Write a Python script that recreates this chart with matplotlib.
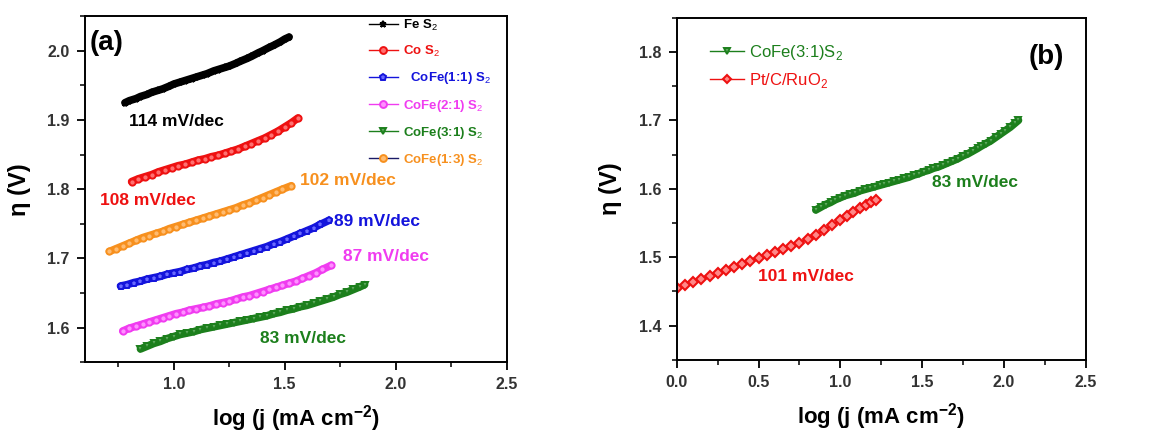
#!/usr/bin/env python3
import matplotlib
matplotlib.use('Agg')
import matplotlib.pyplot as plt
from matplotlib.ticker import MultipleLocator

plt.rcParams['font.family'] = ['Liberation Sans', 'DejaVu Sans']
plt.rcParams['mathtext.fontset'] = 'custom'
plt.rcParams['mathtext.rm'] = 'Liberation Sans'
plt.rcParams['mathtext.bf'] = 'Liberation Sans:bold'

# Tafel data, log(j) vs potential
fes2_x = [0.78, 0.80, 0.83, 0.85, 0.88, 0.90, 0.93, 0.95, 0.98, 1.00, 1.03, 1.05, 1.08, 1.10, 1.13, 1.15,
          1.18, 1.20, 1.23, 1.25, 1.28, 1.30, 1.33, 1.35, 1.38, 1.40, 1.43, 1.45, 1.48, 1.50, 1.52]
fes2_y = [1.925, 1.928, 1.931, 1.934, 1.937, 1.940, 1.943, 1.945, 1.949, 1.952, 1.955, 1.957, 1.960, 1.962,
          1.965, 1.967, 1.971, 1.973, 1.976, 1.978, 1.982, 1.985, 1.989, 1.992, 1.997, 2.000, 2.005, 2.008,
          2.013, 2.017, 2.020]

cos2_x = [0.81, 0.84, 0.87, 0.90, 0.93, 0.96, 0.99, 1.02, 1.05, 1.08, 1.11, 1.14, 1.17, 1.20, 1.23, 1.26,
          1.29, 1.32, 1.35, 1.38, 1.41, 1.44, 1.47, 1.50, 1.53, 1.56]
cos2_y = [1.811, 1.815, 1.818, 1.821, 1.825, 1.828, 1.831, 1.834, 1.836, 1.839, 1.842, 1.844, 1.847, 1.849,
          1.852, 1.855, 1.858, 1.862, 1.866, 1.870, 1.874, 1.879, 1.884, 1.890, 1.896, 1.903]

cofe13_x = [0.71, 0.74, 0.77, 0.80, 0.83, 0.86, 0.89, 0.92, 0.95, 0.98, 1.01, 1.04, 1.07, 1.10, 1.13, 1.16,
            1.19, 1.22, 1.25, 1.28, 1.31, 1.34, 1.37, 1.40, 1.43, 1.46, 1.49, 1.53]
cofe13_y = [1.710, 1.714, 1.718, 1.722, 1.726, 1.730, 1.733, 1.736, 1.739, 1.743, 1.746, 1.749, 1.752, 1.755,
            1.758, 1.761, 1.764, 1.767, 1.770, 1.773, 1.777, 1.780, 1.784, 1.788, 1.792, 1.796, 1.800, 1.805]

cofe11_x = [0.76, 0.79, 0.82, 0.85, 0.88, 0.91, 0.94, 0.97, 1.00, 1.03, 1.06, 1.09, 1.12, 1.15, 1.18, 1.21,
            1.24, 1.27, 1.30, 1.33, 1.36, 1.39, 1.42, 1.45, 1.48, 1.51, 1.54, 1.57, 1.60, 1.63, 1.66, 1.70]
cofe11_y = [1.660, 1.662, 1.665, 1.667, 1.670, 1.672, 1.674, 1.677, 1.679, 1.681, 1.684, 1.686, 1.689, 1.691,
            1.694, 1.696, 1.699, 1.702, 1.705, 1.708, 1.711, 1.714, 1.717, 1.721, 1.724, 1.728, 1.732, 1.736,
            1.740, 1.744, 1.749, 1.755]

cofe21_x = [0.77, 0.80, 0.83, 0.86, 0.89, 0.92, 0.95, 0.98, 1.01, 1.04, 1.07, 1.10, 1.13, 1.16, 1.19, 1.22,
            1.25, 1.28, 1.31, 1.34, 1.37, 1.40, 1.43, 1.46, 1.49, 1.52, 1.55, 1.58, 1.61, 1.64, 1.67, 1.71]
cofe21_y = [1.595, 1.599, 1.602, 1.605, 1.608, 1.611, 1.614, 1.617, 1.620, 1.622, 1.625, 1.627, 1.629, 1.631,
            1.634, 1.636, 1.638, 1.641, 1.644, 1.646, 1.649, 1.652, 1.655, 1.658, 1.661, 1.664, 1.667, 1.671,
            1.675, 1.679, 1.684, 1.690]

cofe31_x = [0.85, 0.88, 0.91, 0.94, 0.97, 1.00, 1.03, 1.06, 1.09, 1.12, 1.15, 1.18, 1.21, 1.24, 1.27, 1.30,
            1.33, 1.36, 1.39, 1.42, 1.45, 1.48, 1.51, 1.54, 1.57, 1.60, 1.63, 1.66, 1.69, 1.72, 1.75, 1.78,
            1.81, 1.84, 1.86, 1.89, 1.92, 1.95, 1.98, 2.01, 2.04, 2.07, 2.09]
cofe31_y = [1.569, 1.573, 1.577, 1.580, 1.584, 1.587, 1.590, 1.592, 1.594, 1.597, 1.599, 1.601, 1.603, 1.605,
            1.607, 1.609, 1.611, 1.613, 1.615, 1.617, 1.620, 1.622, 1.625, 1.627, 1.630, 1.632, 1.635, 1.638,
            1.641, 1.644, 1.648, 1.651, 1.655, 1.659, 1.662, 1.666, 1.670, 1.675, 1.680, 1.685, 1.690, 1.696,
            1.700]
# panel (a) shows the CoFe(3:1) curve only up to log j = 1.86
cofe31_cut = 35

ptc_x = [0.00, 0.05, 0.10, 0.15, 0.20, 0.25, 0.30, 0.35, 0.40, 0.45, 0.50, 0.55, 0.60, 0.65, 0.70, 0.75,
         0.80, 0.85, 0.90, 0.95, 1.00, 1.04, 1.08, 1.12, 1.16, 1.19, 1.22]
ptc_y = [1.455, 1.459, 1.464, 1.468, 1.473, 1.477, 1.481, 1.486, 1.490, 1.495, 1.499, 1.503, 1.508, 1.512,
         1.517, 1.521, 1.527, 1.533, 1.540, 1.547, 1.554, 1.560, 1.566, 1.572, 1.577, 1.581, 1.584]

BLACK = '#000000'
RED = '#ee1111'
BLUE = '#1414dc'
MAGENTA = '#f03cf0'
GREEN = '#1c7f1c'
ORANGE = '#f7901e'
NAVY = '#1a1a66'

fig = plt.figure(figsize=(11.71, 4.4), dpi=100)
ax1 = fig.add_axes([0.0726, 0.177, 0.360, 0.786])
ax2 = fig.add_axes([0.578, 0.182, 0.349, 0.778])


def tafel(ax, x, y, color, marker, light, label):
    # thick band of the series colour with densely packed markers on top
    ax.plot(x, y, '-', color=color, linewidth=5.5, solid_capstyle='round')
    h, = ax.plot(x, y, '-', marker=marker, color=color, mec=color, mfc=light,
                 markersize=4.5, markeredgewidth=1.4, linewidth=1.0, label=label)
    return h


tafel(ax1, fes2_x, fes2_y, BLACK, '*', '#555555', 'Fe S$_2$')
tafel(ax1, cos2_x, cos2_y, RED, 'o', '#ff7070', 'Co S$_2$')
tafel(ax1, cofe11_x, cofe11_y, BLUE, 'p', '#6a6aff', '  CoFe(1:1) S$_2$')
tafel(ax1, cofe21_x, cofe21_y, MAGENTA, 'o', '#ff90ff', 'CoFe(2:1) S$_2$')
tafel(ax1, cofe31_x[:cofe31_cut], cofe31_y[:cofe31_cut], GREEN, 'v', '#60aa60', 'CoFe(3:1) S$_2$')
tafel(ax1, cofe13_x, cofe13_y, ORANGE, 'o', '#ffbb70', 'CoFe(1:3) S$_2$')

leg1 = ax1.legend(loc='upper left', bbox_to_anchor=(0.645, 1.03), frameon=False,
                  prop={'size': 9.5, 'weight': 'bold'}, handlelength=2.2, labelspacing=0.85,
                  handletextpad=0.4, markerscale=1.1)
for txt, c in zip(leg1.get_texts(), [BLACK, RED, BLUE, MAGENTA, GREEN, ORANGE]):
    txt.set_color(c)
# the CoFe(1:3) key uses a navy line under orange markers
leg1.legend_handles[5].set_color(NAVY)

ax1.set_xlim(0.6, 2.5)
ax1.set_ylim(1.55, 2.05)
ax1.xaxis.set_major_locator(MultipleLocator(0.5))
ax1.xaxis.set_minor_locator(MultipleLocator(0.25))
ax1.yaxis.set_major_locator(MultipleLocator(0.1))
ax1.yaxis.set_minor_locator(MultipleLocator(0.05))

lbl = dict(fontsize=12.5, fontweight='bold')
ax1.text(0.80, 1.898, '114 mV/dec', color=BLACK, va='center', **lbl)
ax1.text(0.667, 1.783, '108 mV/dec', color=RED, va='center', **lbl)
ax1.text(1.568, 1.812, '102 mV/dec', color=ORANGE, va='center', **lbl)
ax1.text(1.72, 1.754, '89 mV/dec', color=BLUE, va='center', **lbl)
ax1.text(1.763, 1.703, '87 mV/dec', color=MAGENTA, va='center', **lbl)
ax1.text(1.388, 1.584, '83 mV/dec', color=GREEN, va='center', **lbl)
ax1.text(0.62, 2.012, '(a)', fontsize=20, fontweight='bold', va='center')

tafel(ax2, cofe31_x, cofe31_y, GREEN, 'v', '#60aa60', 'CoFe(3:1)S$_2$')
ax2.plot(ptc_x, ptc_y, '-D', color=RED, mfc='#ff8888', label='Pt/C/RuO$_2$',
         markersize=5, markeredgewidth=1.5, linewidth=1.5)
leg2 = ax2.legend(loc='upper left', bbox_to_anchor=(0.045, 0.97), frameon=False,
                  prop={'size': 12}, handlelength=2.0, labelspacing=0.55, handletextpad=0.3,
                  markerscale=0.9)
for txt, c in zip(leg2.get_texts(), [GREEN, RED]):
    txt.set_color(c)

for leg in (leg1, leg2):
    for h in leg.legend_handles:
        h.set_linewidth(1.0)

ax2.set_xlim(0.0, 2.5)
ax2.set_ylim(1.35, 1.85)
ax2.xaxis.set_major_locator(MultipleLocator(0.5))
ax2.xaxis.set_minor_locator(MultipleLocator(0.25))
ax2.yaxis.set_major_locator(MultipleLocator(0.1))
ax2.yaxis.set_minor_locator(MultipleLocator(0.05))

ax2.text(1.56, 1.609, '83 mV/dec', color=GREEN, va='center', **lbl)
ax2.text(0.495, 1.472, '101 mV/dec', color=RED, va='center', **lbl)
ax2.text(2.153, 1.793, '(b)', fontsize=20, fontweight='bold', va='center')

for ax in (ax1, ax2):
    for s in ax.spines.values():
        s.set_linewidth(1.4)
    ax.tick_params(which='major', direction='out', length=6, width=1.3, labelsize=11.5,
                   labelcolor='#333333', pad=5)
    ax.tick_params(which='minor', direction='out', length=3.5, width=1.1)
    for t in ax.get_xticklabels() + ax.get_yticklabels():
        t.set_fontweight('bold')
    ax.set_xlabel('log (j (mA cm$^{\\mathbf{-2}}$)', fontsize=16, fontweight='bold', labelpad=8)
    ax.set_ylabel('η (V)', fontsize=17, fontweight='bold', labelpad=12)

fig.savefig('out.png', dpi=100)
